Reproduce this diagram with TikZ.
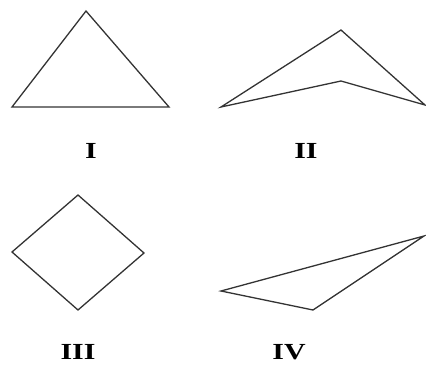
\documentclass[tikz,border=0pt]{standalone}
\usepackage{fontspec}
\setmainfont{Liberation Serif}
\newcommand{\widetxt}[1]{\scalebox{1.3}[1]{#1}}
\begin{document}
\begin{tikzpicture}[x=1pt,y=-1pt,
  outline/.style={draw=black!80,line width=1.3pt,line join=miter},
  lbl/.style={font=\fontsize{23}{23}\selectfont\bfseries,inner sep=0pt}]
\useasboundingbox (0,0) rectangle (426,367);
% I
\coordinate (a1) at (86,11);
\coordinate (a2) at (12,107);
\coordinate (a3) at (169,107);
\draw[outline] (a1) -- (a2) -- (a3) -- cycle;
\node[lbl] (l1) at (91,151) {\widetxt{I}};
% II
\coordinate (b1) at (221,107);
\coordinate (b2) at (341,30);
\coordinate (b3) at (425,105);
\coordinate (b4) at (341,81);
\draw[outline] (b1) -- (b2) -- (b3) -- (b4) -- cycle;
\node[lbl] (l2) at (306,151) {\widetxt{II}};
% III
\coordinate (c1) at (78,195);
\coordinate (c2) at (144,253);
\coordinate (c3) at (78,310);
\coordinate (c4) at (12,252);
\draw[outline] (c1) -- (c2) -- (c3) -- (c4) -- cycle;
\node[lbl] (l3) at (78,352) {\widetxt{III}};
% IV
\coordinate (d1) at (221,291);
\coordinate (d2) at (424,236);
\coordinate (d3) at (313,310);
\draw[outline] (d1) -- (d2) -- (d3) -- cycle;
\node[lbl] (l4) at (289,352) {\widetxt{IV}};
\end{tikzpicture}
\end{document}
